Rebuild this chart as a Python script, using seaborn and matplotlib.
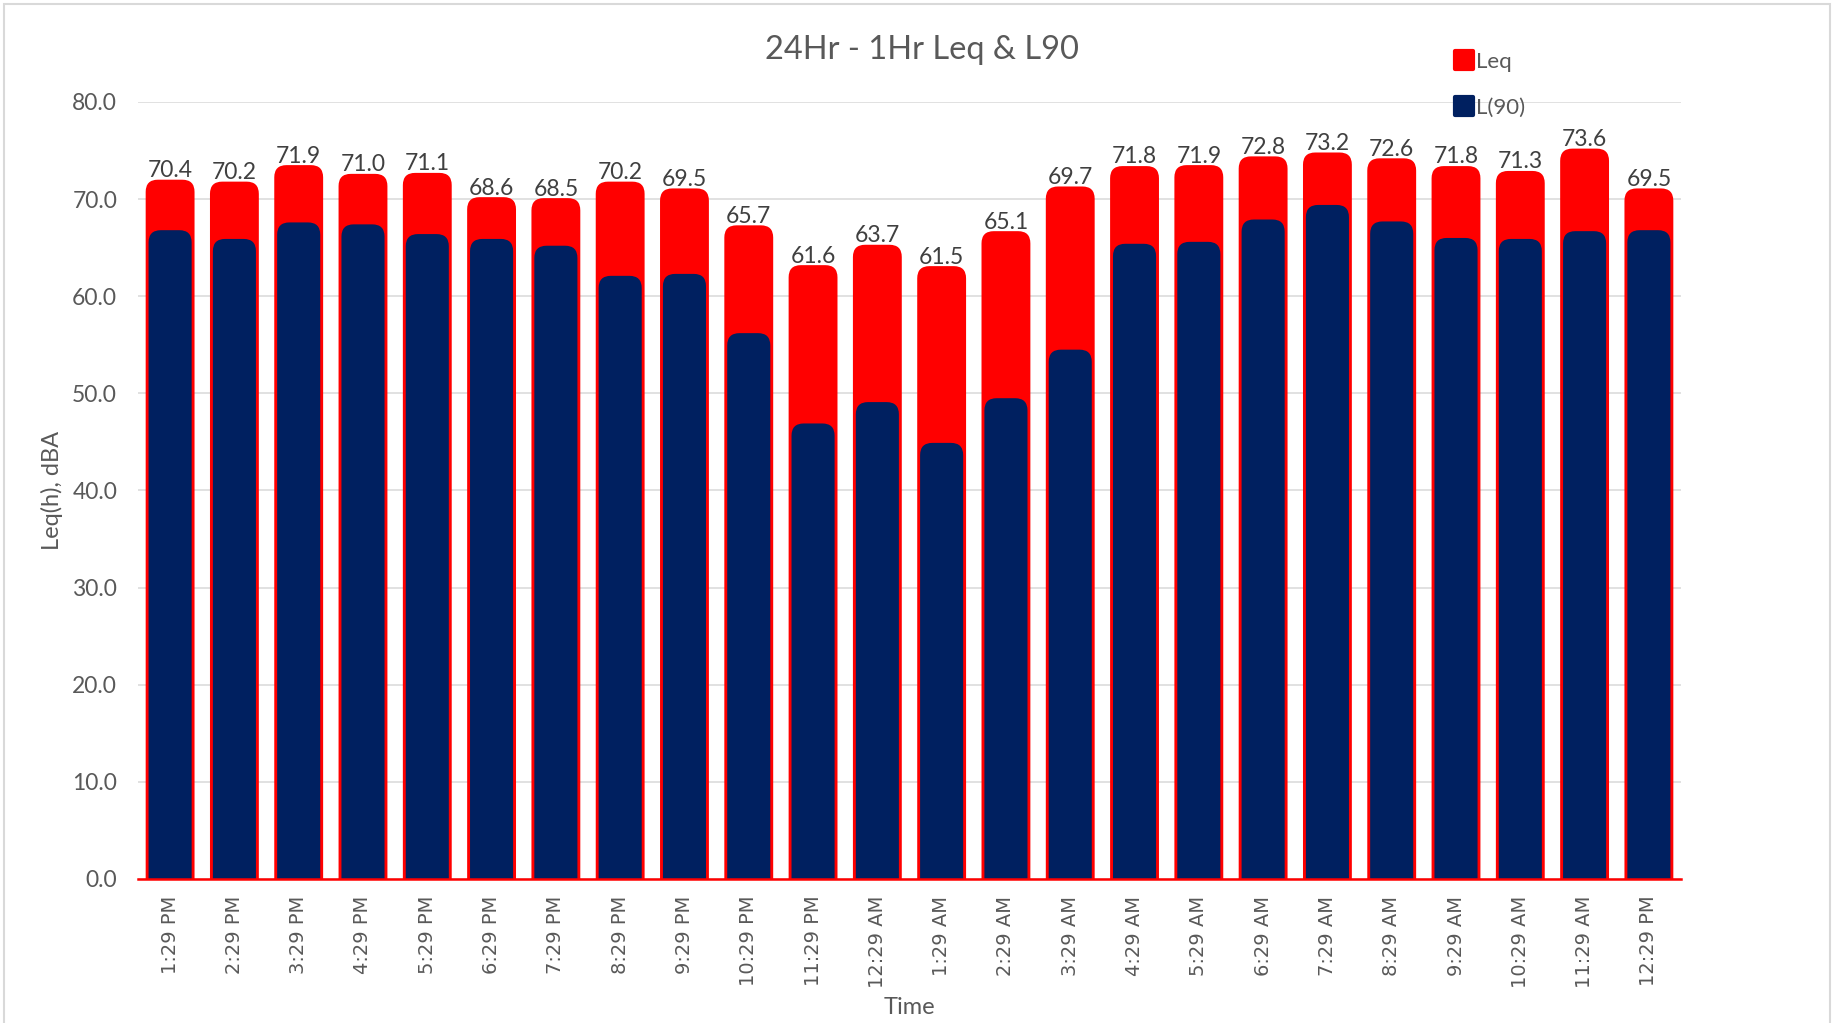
import numpy as np
import pandas as pd
import seaborn as sns
import matplotlib.pyplot as plt
from matplotlib.patches import FancyBboxPatch, Rectangle
from matplotlib.lines import Line2D
from matplotlib.markers import MarkerStyle
from matplotlib.ticker import FormatStrFormatter

# hourly readings
times = ['1:29 PM', '2:29 PM', '3:29 PM', '4:29 PM', '5:29 PM', '6:29 PM',
         '7:29 PM', '8:29 PM', '9:29 PM', '10:29 PM', '11:29 PM', '12:29 AM',
         '1:29 AM', '2:29 AM', '3:29 AM', '4:29 AM', '5:29 AM', '6:29 AM',
         '7:29 AM', '8:29 AM', '9:29 AM', '10:29 AM', '11:29 AM', '12:29 PM']
leq = [70.4, 70.2, 71.9, 71.0, 71.1, 68.6, 68.5, 70.2, 69.5, 65.7, 61.6, 63.7,
       61.5, 65.1, 69.7, 71.8, 71.9, 72.8, 73.2, 72.6, 71.8, 71.3, 73.6, 69.5]
l90 = [65.2, 64.3, 66.0, 65.8, 64.8, 64.3, 63.6, 60.5, 60.7, 54.6, 45.3, 47.5,
       43.3, 47.9, 52.9, 63.8, 64.0, 66.3, 67.8, 66.1, 64.4, 64.3, 65.1, 65.2]

RED = '#ff0000'
NAVY = '#002060'
GREY = '#595959'

sns.set_style('white')
plt.rcParams['font.family'] = ['Lato', 'DejaVu Sans']

df = pd.DataFrame({'Time': times, 'Leq': leq, 'L90': l90})

W, H = 1837, 1023
fig = plt.figure(figsize=(W / 100, H / 100), dpi=100)
ax_w, ax_h = 0.840, 0.7595
ax = fig.add_axes([0.0751, 0.1408, ax_w, ax_h])

sns.barplot(data=df, x='Time', y='Leq', color=RED, width=0.76,
            saturation=1, ax=ax)
sns.barplot(data=df, x='Time', y='L90', color=NAVY, width=0.67,
            saturation=1, ax=ax)

ax.set_ylim(0, 80)
ax.set_xlim(-0.5, len(times) - 0.5)

# swap the plain rectangles for round-topped ones (bottom hidden below 0)
cap = 1.6
aspect = (W * ax_w / len(times)) / (H * ax_h / 80)
bars = list(ax.patches)
for i, p in enumerate(bars):
    x, w, h = p.get_x(), p.get_width(), p.get_height()
    fc = p.get_facecolor()
    p.remove()
    box = FancyBboxPatch((x, -5), w, h + cap + 5,
                         boxstyle='round,pad=0,rounding_size=0.19',
                         mutation_aspect=aspect, fc=fc, lw=0,
                         zorder=2 if i < len(times) else 3)
    ax.add_patch(box)

for i, v in enumerate(leq):
    ax.annotate(f'{v:.1f}', (i, v + cap), xytext=(0, -1),
                textcoords='offset points', ha='center', va='bottom',
                fontsize=16.5, color='#404040')

ax.set_axisbelow(True)
ax.yaxis.grid(True, color='#d9d9d9', lw=1.1)
ax.xaxis.grid(False)
ax.set_yticks(np.arange(0, 81, 10))
ax.yaxis.set_major_formatter(FormatStrFormatter('%.1f'))
for s in ['left', 'top', 'right']:
    ax.spines[s].set_visible(False)
ax.spines['bottom'].set_color(RED)
ax.spines['bottom'].set_linewidth(1.8)
ax.spines['bottom'].set_zorder(4)

ax.tick_params(axis='y', length=0, pad=15, labelsize=16.5, labelcolor=GREY)
ax.tick_params(axis='x', length=0, pad=12, labelsize=14, labelcolor=GREY,
               rotation=90)
for t in ax.get_xticklabels():
    t.set_fontfamily('DejaVu Sans')

ax.set_xlabel('Time', fontsize=17, color=GREY)
ax.xaxis.set_label_coords(0.5, -0.165)
ax.xaxis.label.set_va('center')
ax.set_ylabel('Leq(h), dBA', fontsize=17, color=GREY)
ax.yaxis.set_label_coords(-0.0557, 0.5)
ax.yaxis.label.set_va('center')

fig.text(0.502, 0.951, '24Hr - 1Hr Leq & L90', ha='center', va='center',
         fontsize=23.5, color=GREY)

handles = [Line2D([], [], ls='none', marker=MarkerStyle('s', joinstyle='round'),
                  ms=13, mfc=c, mec=c, mew=3) for c in [RED, NAVY]]
fig.legend(handles, ['Leq', 'L(90)'], loc='upper left',
           bbox_to_anchor=(1442 / W, 1 - 41 / H), frameon=False, fontsize=16,
           labelspacing=1.15, handletextpad=0.05, handlelength=1.0,
           borderpad=0, labelcolor=GREY)

fig.add_artist(Rectangle((4 / W, -0.01), (1830 - 4) / W, 1.01 - 4 / H,
                         transform=fig.transFigure, fill=False,
                         ec='#d9d9d9', lw=1.5))

fig.savefig('out.png', dpi=100)
